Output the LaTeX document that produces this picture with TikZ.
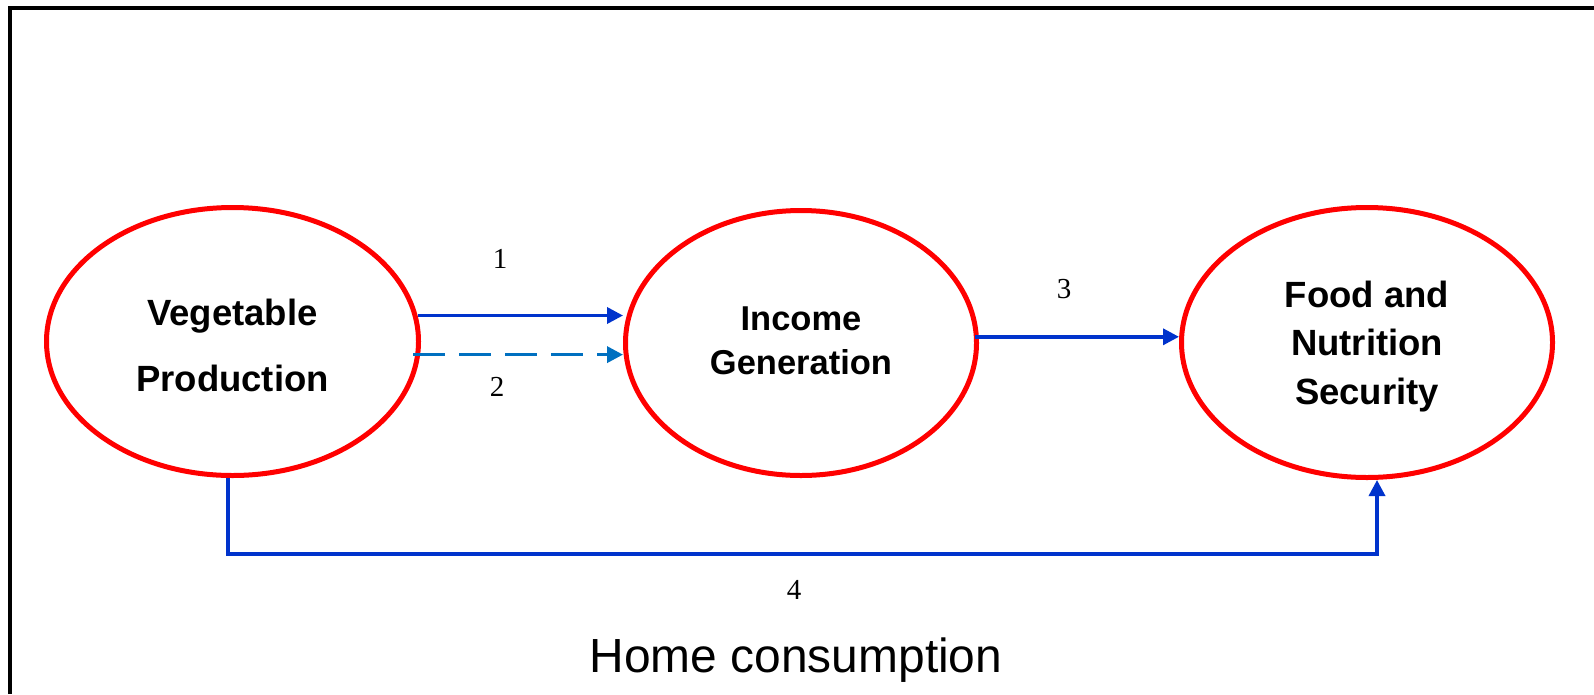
\documentclass[tikz,border=0pt]{standalone}
\usepackage{fontspec}
\setmainfont{Liberation Serif}
\setsansfont{Liberation Sans}
\usetikzlibrary{arrows.meta,shapes.geometric}
\definecolor{ered}{HTML}{FF0000}
\definecolor{dblue}{HTML}{0033CC}
\definecolor{lblue}{HTML}{0070C0}
\tikzset{
  oval/.style={ellipse, draw=ered, line width=5pt, inner sep=0pt},
  ovtext/.style={inner sep=0pt, align=center, text=black},
  conn/.style={draw=dblue, line width=3.5pt, -{Triangle[length=16pt,width=16pt]}},
  dconn/.style={draw=lblue, line width=3.5pt, dash pattern=on 32pt off 14pt, -{Triangle[length=16pt,width=16pt]}},
  num/.style={font=\fontsize{29}{29}\selectfont, inner sep=0pt},
}
\begin{document}
\begin{tikzpicture}[x=1pt,y=-1pt]
\useasboundingbox (0,0) rectangle (1594,694);
\fill[white] (0,0) rectangle (1594,694);
% frame
\draw[line width=4pt] (10,694) -- (10,8) -- (1594,8);
% ovals
\node[oval, minimum width=372pt, minimum height=268pt] (e1) at (232.5,341.5) {};
\node[oval, minimum width=351pt, minimum height=265pt] (e2) at (801,343) {};
\node[oval, minimum width=371pt, minimum height=270pt] (e3) at (1367,342.5) {};
\node[ovtext, font=\sffamily\bfseries\fontsize{36.5}{66}\selectfont] (t1) at ([yshift=-3.6pt]e1.center) {Vegetable\\Production};
\node[ovtext, font=\sffamily\bfseries\fontsize{34.5}{44.4}\selectfont] (t2) at ([yshift=2pt]e2.center) {Income\\Generation};
\node[ovtext, font=\sffamily\bfseries\fontsize{36.5}{48.8}\selectfont] (t3) at ([yshift=-4pt]e3.center) {Food and\\Nutrition\\Security};
% connectors
\draw[conn] (e1.8.5) -- (e1.8.5 -| e2.west);
\draw[dconn] ([xshift=-7pt]e1.-4) -- (e1.-4 -| e2.west);
\draw[conn] ([xshift=-4pt]e2.2.6) -- (e2.2.6 -| e3.west);
\coordinate (bend) at (0,554);
\draw[conn] ([xshift=-4.5pt]e1.south) |- ([xshift=10pt]e3.south |- bend) -- ([xshift=10pt]e3.south);
% labels
\node[num] (n1) at (500,259) {1};
\node[num] (n2) at (497,387) {2};
\node[num] (n3) at (1064,289) {3};
\node[num] (n4) at (794,590) {4};
\node[font=\sffamily\fontsize{47.9}{47.9}\selectfont, inner sep=0pt] (home) at (796,660) {Home consumption};
\end{tikzpicture}
\end{document}
